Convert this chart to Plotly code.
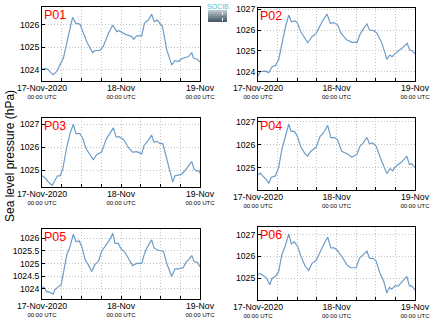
import plotly.graph_objects as go
import pandas as pd

START = pd.Timestamp("2020-11-17 00:00")
stations = ["P01", "P02", "P03", "P04", "P05", "P06"]

# hours since 17-Nov-2020 00:00 UTC and sea level pressure (hPa)
p01_hours = [0, 1.4, 2.9, 3.4, 4.5, 6.5, 7.5, 9.3, 10.3, 11.5, 13.8, 15.4, 16.1, 17.6, 18.6, 20.2, 21.5, 22.7, 23.4, 25.2, 27.3, 27.8, 28.8, 30.3, 31.1, 32.3, 33.3, 34.1, 35.0, 35.9, 36.6, 37.9, 39.4, 40.4, 41.4, 42.5, 44.5, 45.5, 46.0, 47.0, 48]
p01_vals = [1024.03, 1024.05, 1023.85, 1023.78, 1023.93, 1024.52, 1025.18, 1026.34, 1026.07, 1026.04, 1025.18, 1024.77, 1024.86, 1024.86, 1025.04, 1025.63, 1026.0, 1025.70, 1025.74, 1025.59, 1025.48, 1025.36, 1025.51, 1025.51, 1026.07, 1026.22, 1026.48, 1026.15, 1026.22, 1026.04, 1025.93, 1024.89, 1024.22, 1024.41, 1024.37, 1024.49, 1024.59, 1024.77, 1024.52, 1024.48, 1024.35]

p02_hours = [0, 0.7, 2.2, 3.3, 4.3, 5.3, 6.3, 7.3, 8.4, 9.4, 10.2, 11.4, 12.1, 13.1, 14.5, 15.2, 16.5, 17.8, 19.6, 21.1, 22.1, 23.1, 24.4, 25.4, 27.2, 28.7, 30.3, 31.1, 32.3, 33.3, 34.1, 35.4, 36.4, 37.9, 39.4, 40.3, 41.0, 42.0, 44.0, 45.6, 46.4, 47.1, 48]
p02_vals = [1023.79, 1024.0, 1024.02, 1023.95, 1024.24, 1024.29, 1024.56, 1025.36, 1026.16, 1026.72, 1026.40, 1026.44, 1026.32, 1025.92, 1025.52, 1025.39, 1025.68, 1025.84, 1026.40, 1026.77, 1026.32, 1026.36, 1026.24, 1025.84, 1025.52, 1025.41, 1025.41, 1025.76, 1026.08, 1026.29, 1026.0, 1025.97, 1025.84, 1025.36, 1024.59, 1024.80, 1024.72, 1024.88, 1025.12, 1025.36, 1025.04, 1025.01, 1024.85]

p03_hours = [0, 0.9, 1.9, 3.1, 3.9, 4.7, 5.5, 6.3, 7.5, 8.5, 9.5, 10.3, 11.5, 12.4, 13.4, 14.6, 15.6, 16.6, 18.1, 19.6, 20.7, 21.7, 22.5, 23.5, 24.7, 26.2, 27.5, 28.8, 30.3, 31.0, 32.3, 33.3, 34.0, 35.0, 35.8, 36.7, 37.9, 38.9, 39.7, 40.4, 41.4, 42.4, 43.4, 44.5, 45.5, 46.2, 47.0, 47.8, 48]
p03_vals = [1024.75, 1024.67, 1024.48, 1024.33, 1024.53, 1024.75, 1024.75, 1025.04, 1026.0, 1026.6, 1027.0, 1026.6, 1026.6, 1026.38, 1025.93, 1025.64, 1025.46, 1025.67, 1025.79, 1026.38, 1026.6, 1026.85, 1026.45, 1026.45, 1026.35, 1026.0, 1025.79, 1025.81, 1025.71, 1026.08, 1026.3, 1026.53, 1026.23, 1026.26, 1026.16, 1026.16, 1025.49, 1024.9, 1024.48, 1024.75, 1024.78, 1024.82, 1024.97, 1025.19, 1025.37, 1025.04, 1024.97, 1024.97, 1024.85]

p04_hours = [0, 0.7, 1.7, 2.7, 3.3, 4.0, 5.3, 6.3, 7.3, 8.3, 9.4, 10.1, 11.1, 11.9, 13.1, 14.4, 15.2, 16.0, 17.8, 19.0, 20.0, 21.3, 22.3, 23.3, 24.3, 25.6, 27.2, 28.7, 30.2, 31.2, 32.2, 33.3, 34.1, 35.1, 36.1, 37.8, 39.4, 40.4, 41.2, 41.9, 43.9, 45.5, 46.3, 47.0, 48]
p04_vals = [1024.69, 1024.76, 1024.6, 1024.46, 1024.31, 1024.57, 1024.64, 1025.0, 1025.79, 1026.29, 1026.89, 1026.57, 1026.57, 1026.4, 1025.89, 1025.6, 1025.5, 1025.69, 1025.89, 1026.36, 1026.5, 1026.83, 1026.29, 1026.31, 1026.21, 1025.71, 1025.6, 1025.46, 1025.57, 1025.93, 1026.07, 1026.31, 1026.03, 1026.07, 1025.93, 1025.29, 1024.74, 1024.96, 1024.86, 1025.03, 1025.24, 1025.5, 1025.14, 1025.17, 1025.0]

p05_hours = [0, 0.7, 1.4, 2.4, 3.4, 3.9, 5.0, 5.8, 6.5, 7.5, 8.5, 9.5, 10.3, 11.3, 12.1, 13.1, 14.1, 15.1, 16.1, 17.1, 18.1, 19.4, 20.7, 21.5, 22.2, 23.2, 23.9, 25.2, 26.2, 27.5, 28.8, 30.3, 31.0, 31.8, 33.3, 34.1, 35.1, 36.2, 36.9, 37.9, 39.4, 40.4, 41.4, 42.9, 43.7, 44.5, 45.5, 46.2, 47.2, 48]
p05_vals = [1024.09, 1024.05, 1023.89, 1023.86, 1023.79, 1023.96, 1024.09, 1024.16, 1024.62, 1025.34, 1025.67, 1026.16, 1025.87, 1025.9, 1025.67, 1025.15, 1024.95, 1024.69, 1024.97, 1025.08, 1025.48, 1025.71, 1025.98, 1026.2, 1025.8, 1025.8, 1025.61, 1025.45, 1025.21, 1024.92, 1025.01, 1025.01, 1025.34, 1025.61, 1025.94, 1025.61, 1025.54, 1025.5, 1025.48, 1025.01, 1024.49, 1024.79, 1024.79, 1024.84, 1025.05, 1025.15, 1025.32, 1025.08, 1025.05, 1024.88]

p06_hours = [0, 0.7, 1.7, 2.5, 3.6, 4.3, 5.3, 6.3, 7.3, 8.3, 9.4, 10.2, 11.1, 12.1, 13.1, 14.4, 15.5, 16.5, 17.8, 19.0, 20.2, 21.3, 22.3, 23.3, 24.3, 25.9, 27.2, 28.2, 30.0, 31.0, 32.2, 33.3, 34.1, 35.3, 36.1, 37.3, 38.4, 39.4, 40.2, 40.9, 41.9, 42.9, 45.5, 46.3, 47.0, 48]
p06_vals = [1025.18, 1025.21, 1025.11, 1025.03, 1024.7, 1025.0, 1025.08, 1025.3, 1026.09, 1026.47, 1027.03, 1026.58, 1026.67, 1026.47, 1026.02, 1025.56, 1025.36, 1025.67, 1025.82, 1026.24, 1026.58, 1026.88, 1026.39, 1026.39, 1026.27, 1025.94, 1025.61, 1025.48, 1025.48, 1025.91, 1026.09, 1026.24, 1025.91, 1025.91, 1025.79, 1025.21, 1024.88, 1024.32, 1024.58, 1024.5, 1024.65, 1024.65, 1025.08, 1024.65, 1024.65, 1024.45]

y_ticks = [
    [1024, 1025, 1026],
    [1024, 1025, 1026, 1027],
    [1025, 1026, 1027],
    [1025, 1026, 1027],
    [1024, 1024.5, 1025, 1025.5, 1026],
    [1025, 1026, 1027],
]
y_tick_labels = [
    ["1024", "1025", "1026"],
    ["1024", "1025", "1026", "1027"],
    ["1025", "1026", "1027"],
    ["1025", "1026", "1027"],
    ["1024", "1024.5", "1025", "1025.5", "1026"],
    ["1025", "1026", "1027"],
]
x_tick_hours = [0, 6, 12, 18, 24, 30, 36, 42, 48]
x_tick_names = {0: "17-Nov-2020", 24: "18-Nov", 48: "19-Nov"}

hours = [p01_hours, p02_hours, p03_hours, p04_hours, p05_hours, p06_hours]
vals = [p01_vals, p02_vals, p03_vals, p04_vals, p05_vals, p06_vals]

# layout (pixels of 434x327 canvas)
W, H = 434, 327
boxes = [  # x0, x1, ytop, ybottom in px
    (42, 200, 7, 81), (258, 415, 8, 81),
    (42, 200, 118, 187), (258, 415, 118, 190),
    (42, 200, 229, 299), (258, 415, 227, 300),
]
y_ranges = [
    (1023.5, 1026.8), (1023.55, 1027.06),
    (1024.26, 1027.28), (1024.03, 1027.15),
    (1023.6, 1026.37), (1024.0, 1027.35),
]

FONT = "Liberation Sans, Arial, sans-serif"
LINE = "#6e9cc8"
GRID = "#c4c4c4"
GDASH = "1px,2px"

fig = go.Figure()
tickvals_dt = [START + pd.Timedelta(hours=h) for h in x_tick_hours]
ticktext = [
    (f"<span style='font-size:8.7px'>{x_tick_names[h]}</span><br>00:00 UTC" if h in x_tick_names else "")
    for h in x_tick_hours
]

for i, name in enumerate(stations):
    k = "" if i == 0 else str(i + 1)
    t = [START + pd.Timedelta(hours=h) for h in hours[i]]
    fig.add_trace(go.Scatter(x=t, y=vals[i], mode="lines",
                             line=dict(color=LINE, width=1.2),
                             xaxis="x" + k, yaxis="y" + k, showlegend=False))
    x0, x1, yt, yb = boxes[i]
    fig.layout["xaxis" + k] = dict(
        domain=[x0 / W, x1 / W], anchor="y" + k, automargin=False,
        range=[START, START + pd.Timedelta(hours=48)],
        tickvals=tickvals_dt, ticktext=ticktext, tickangle=0,
        showgrid=True, gridcolor=GRID, griddash=GDASH, gridwidth=1,
        showline=True, linecolor="black", linewidth=1, mirror=True,
        ticks="inside", ticklen=3, tickcolor="black",
        tickfont=dict(family=FONT, size=6, color="black"),
        ticklabelstandoff=2,
        zeroline=False,
    )
    fig.layout["yaxis" + k] = dict(
        domain=[1 - yb / H, 1 - yt / H], anchor="x" + k, automargin=False,
        range=list(y_ranges[i]),
        tickvals=y_ticks[i], ticktext=y_tick_labels[i],
        showgrid=True, gridcolor=GRID, griddash=GDASH, gridwidth=1,
        showline=True, linecolor="black", linewidth=1, mirror=True,
        ticks="inside", ticklen=3, tickcolor="black",
        tickfont=dict(family=FONT, size=8.7, color="black"),
        zeroline=False,
    )
    fig.add_annotation(text=name, xref=f"x{k} domain", yref=f"y{k} domain",
                       x=0, y=1, xanchor="left", yanchor="top", xshift=0, yshift=1,
                       showarrow=False, font=dict(family=FONT, size=12.5, color="#ff0000"))

# y title
fig.add_annotation(text="Sea level pressure (hPa)", xref="paper", yref="paper",
                   x=10 / W, y=1 - 156 / H, xanchor="center", yanchor="middle",
                   textangle=-90, showarrow=False,
                   font=dict(family=FONT, size=12, color="black"))

# logo (SOCIB)
shades = ["#b7c6cf", "#a0b0bb", "#8899a6", "#728592", "#5e707e", "#4c5d6a"]
lx0, lx1, ly0, ly1 = 208, 227, 10, 22
step = (ly1 - ly0) / len(shades)
for j, c in enumerate(shades):
    fig.add_shape(type="rect", xref="paper", yref="paper", layer="above",
                  x0=lx0 / W, x1=lx1 / W,
                  y0=1 - (ly0 + (j + 1) * step) / H, y1=1 - (ly0 + j * step) / H,
                  line=dict(width=0), fillcolor=c)
fig.add_shape(type="line", xref="paper", yref="paper", layer="above",
              x0=222.5 / W, x1=222.5 / W, y0=1 - 21 / H, y1=1 - 11 / H,
              line=dict(color="white", width=1, dash="dot"))
fig.add_annotation(text="SOCIB", xref="paper", yref="paper", x=(lx0 + lx1) / 2 / W, y=1 - 1.5 / H,
                   xanchor="center", yanchor="top", showarrow=False,
                   font=dict(family=FONT, size=7, color="#4cc3d9"))

fig.update_layout(width=W, height=H, margin=dict(l=0, r=0, t=0, b=0),
                  paper_bgcolor="white", plot_bgcolor="white")
fig.write_html("out.html")
